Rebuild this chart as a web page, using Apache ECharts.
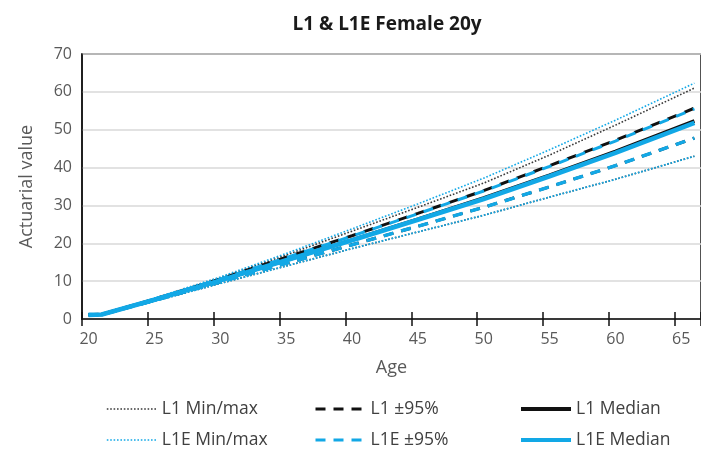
<!DOCTYPE html>
<html>
<head>
<meta charset="utf-8">
<script src="https://cdn.jsdelivr.net/npm/echarts@6/dist/echarts.min.js"></script>
<style>html,body{margin:0;padding:0;background:#fff;}#c{width:701px;height:457px;}</style>
</head>
<body>
<div id="c"></div>
<script>
// categories (ages on the x axis)
const ages = [20,21,22,23,24,25,26,27,28,29,30,31,32,33,34,35,36,37,38,39,40,41,42,43,44,45,46,47,48,49,50,51,52,53,54,55,56,57,58,59,60,61,62,63,64,65,66];
const pointAges = [20,21,25,30,35,40,45,50,55,60,66];
const yTicks = [0,10,20,30,40,50,60,70];

const l1Max    = [1.2, 1.3, 5.4, 10.9, 16.9, 23.2, 29.5, 35.9, 43.3, 51.2, 61.0];
const l1Up95   = [1.15,1.25,5.3, 10.6, 16.3, 22.0, 27.9, 33.9, 40.5, 47.2, 55.7];
const l1Median = [1.1, 1.2, 5.1, 10.2, 15.5, 20.9, 26.4, 32.0, 38.0, 44.3, 52.3];
const l1Lo95   = [1.05,1.15,4.9, 9.8, 14.7, 19.6, 24.5, 29.5, 34.9, 40.5, 47.8];
const l1Min    = [1.1, 1.15,4.7, 9.4, 14.0, 18.6, 23.0, 27.4, 32.2, 36.9, 43.0];

const l1eMax    = [1.2, 1.3, 5.5, 11.1, 17.3, 23.8, 30.4, 37.2, 44.7, 52.5, 62.3];
const l1eUp95   = [1.15,1.25,5.3, 10.55,16.2, 21.9, 27.8, 33.8, 40.3, 47.0, 55.5];
const l1eMedian = [1.1, 1.2, 5.1, 10.2, 15.5, 20.8, 26.2, 31.7, 37.7, 43.9, 51.8];
const l1eLo95   = [1.05,1.15,4.9, 9.8, 14.7, 19.6, 24.5, 29.5, 34.9, 40.5, 47.8];
const l1eMin    = [1.1, 1.15,4.7, 9.4, 14.0, 18.6, 23.0, 27.4, 32.2, 36.9, 43.0];

const BLACK = '#111111';
const DOTBLACK = '#3a3a3a';
const BLUE = '#12a8e6';
const FONT = 'Open Sans';

function pts(vals){ return pointAges.map((a,i)=>[String(a), vals[i]]); }
function line(name, vals, color, width, type, extra){
  return {
    name: name, type: 'line', data: pts(vals), symbol: 'none', showSymbol: false,
    animation: false, silent: true, xAxisIndex: 0, color: color,
    itemStyle: {color: color},
    lineStyle: Object.assign({color: color, width: width, type: type}, extra || {})
  };
}

const series = [
  line('L1 Min/max', l1Max, DOTBLACK, 1.6, [1.6, 1.8]),
  line('L1 Min/max', l1Min, DOTBLACK, 1.6, [1.6, 1.8]),
  line('L1 ±95%', l1Up95, BLACK, 3, [10, 8]),
  line('L1 ±95%', l1Lo95, BLACK, 3, [10, 8]),
  line('L1 Median', l1Median, BLACK, 3.5, 'solid'),
  line('L1E Min/max', l1eMax, BLUE, 1.6, [1.6, 1.8]),
  line('L1E Min/max', l1eMin, BLUE, 1.8, [1.6, 1.8]),
  line('L1E ±95%', l1eUp95, BLUE, 3, [10, 8], {dashOffset: 9}),
  line('L1E ±95%', l1eLo95, BLUE, 3.4, [10, 8]),
  line('L1E Median', l1eMedian, BLUE, 4.6, 'solid')
];

function legend(name, left, top, w, type, color){
  return {
    data: [name], left: left, top: top, padding: 0, itemWidth: 50, itemHeight: 14,
    selectedMode: false,
    itemStyle: {opacity: 0, borderWidth: 0},
    lineStyle: {width: w, type: type, color: color, dashOffset: 0},
    textStyle: {fontFamily: FONT, fontSize: 17.5, color: '#404040'}
  };
}

const chart = echarts.init(document.getElementById('c'), null, {renderer: 'canvas'});
chart.setOption({
  backgroundColor: '#ffffff',
  animation: false,
  title: {
    text: 'L1 & L1E Female 20y', left: 382, top: 10, textAlign: 'center',
    textStyle: {fontFamily: FONT, fontSize: 19, fontWeight: 'bold', color: '#1a1a1a'}
  },
  grid: {left: 82, top: 54, width: 620, height: 265, show: true, borderColor: '#1a1a1a', borderWidth: 1.5, containLabel: false},
  legend: [
    legend('L1 Min/max', 106, 400, 1.6, [1.6, 1.8], DOTBLACK),
    legend('L1 ±95%', 314, 400, 3, [10, 8], BLACK),
    legend('L1 Median', 519, 400, 4, 'solid', BLACK),
    legend('L1E Min/max', 106, 431, 1.6, [1.6, 1.8], BLUE),
    legend('L1E ±95%', 314, 431, 3, [10, 8], BLUE),
    legend('L1E Median', 519, 431, 4, 'solid', BLUE)
  ],
  xAxis: [{
    type: 'category', data: ages.map(String), boundaryGap: true, position: 'bottom',
    axisLine: {lineStyle: {color: '#111', width: 1.5}},
    axisTick: {show: true, interval: 4, length: 7, alignWithLabel: false, lineStyle: {color: '#111', width: 1.5}},
    axisLabel: {interval: 4, color: '#595959', fontFamily: FONT, fontSize: 16, margin: 12},
    splitLine: {show: false},
    name: 'Age', nameLocation: 'middle', nameGap: 40,
    nameTextStyle: {fontFamily: FONT, fontSize: 18, color: '#595959'}
  }, {
    type: 'category', data: ages.map(String), boundaryGap: true, position: 'bottom',
    axisLine: {show: false},
    axisTick: {show: true, inside: true, interval: 4, length: 7, alignWithLabel: false, lineStyle: {color: '#111', width: 1.5}},
    axisLabel: {show: false}, splitLine: {show: false}
  }],
  yAxis: {
    type: 'value', min: yTicks[0], max: yTicks[yTicks.length-1], interval: 10,
    axisLine: {show: true, lineStyle: {color: '#111', width: 1.5}},
    axisTick: {show: false},
    axisLabel: {color: '#595959', fontFamily: FONT, fontSize: 16, margin: 10},
    splitLine: {show: true, lineStyle: {color: '#d9d9d9', width: 1.5}},
    name: 'Actuarial value', nameLocation: 'middle', nameGap: 46, nameRotate: 90,
    nameTextStyle: {fontFamily: FONT, fontSize: 18, color: '#595959'}
  },
  series: series
});
</script>
</body>
</html>
